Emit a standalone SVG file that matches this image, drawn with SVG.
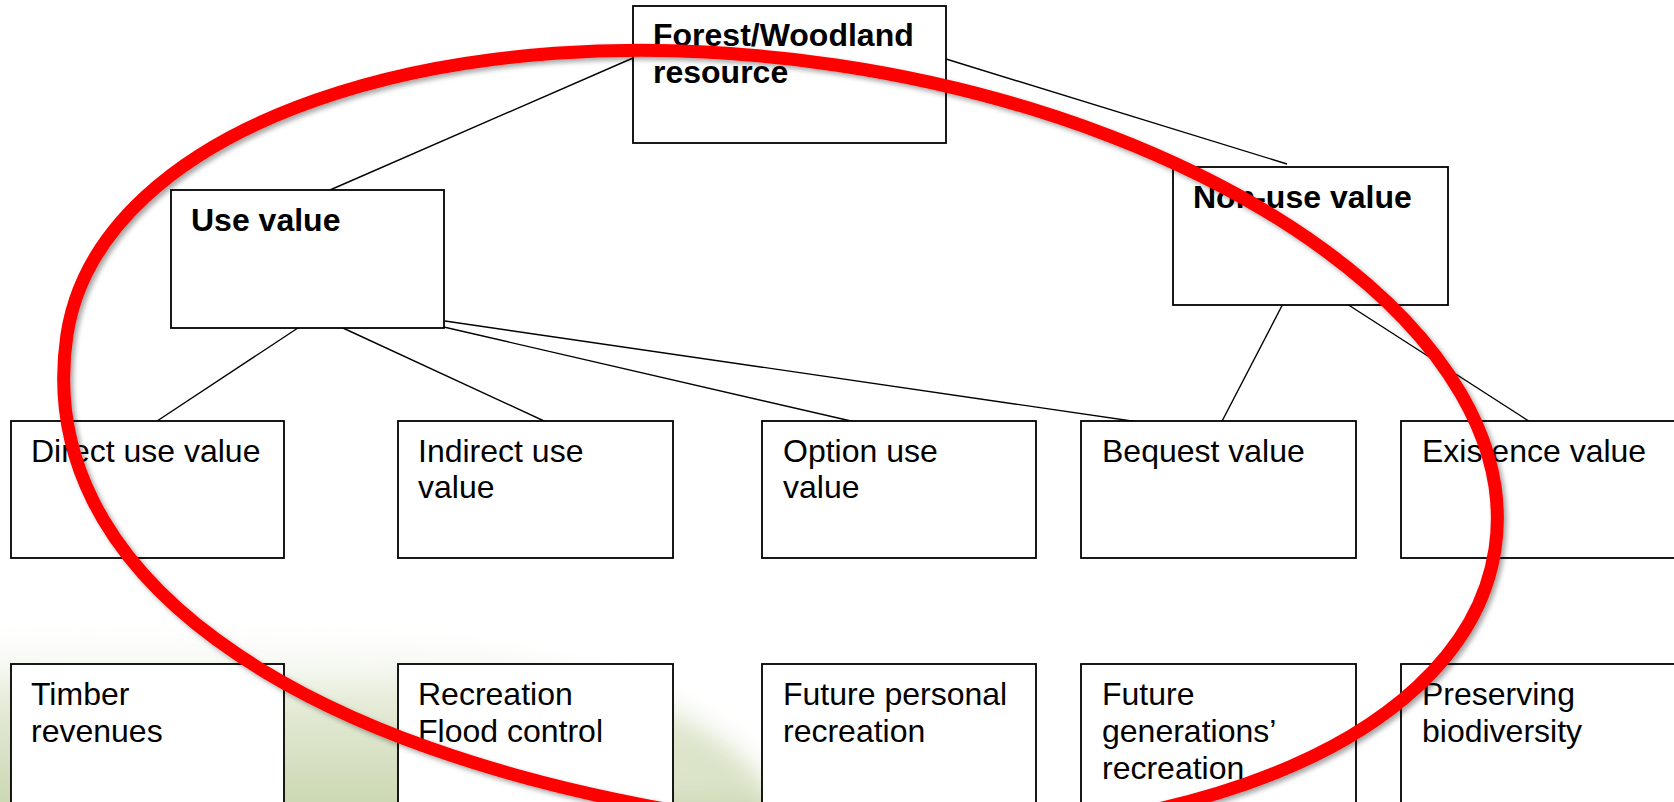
<svg xmlns="http://www.w3.org/2000/svg" width="1674" height="802" viewBox="0 0 1674 802">
<style>
.box{fill:#fff;stroke:#000;stroke-width:1.8}
.t{font-family:"Liberation Sans",Arial,sans-serif;font-size:32px;fill:#000}
.b{font-weight:bold}
.c{stroke:#000;stroke-width:1.4;fill:none}
</style>
<defs>
<linearGradient id="gg" x1="0" y1="0" x2="0" y2="1">
<stop offset="0" stop-color="#ffffff" stop-opacity="0"/>
<stop offset="0.35" stop-color="#e6ecd9"/>
<stop offset="1" stop-color="#c3d1a6"/>
</linearGradient>
<filter id="blur" x="-20%" y="-20%" width="140%" height="140%"><feGaussianBlur stdDeviation="14"/></filter>
<filter id="sh" x="-10%" y="-10%" width="120%" height="120%"><feDropShadow dx="3" dy="3" stdDeviation="2.5" flood-color="#000" flood-opacity="0.35"/></filter>
</defs>
<rect width="1674" height="802" fill="#fff"/>
<g id="background" filter="url(#blur)">
<path d="M-40,640 C150,600 400,620 620,690 C700,715 760,760 800,840 L-40,840 Z" fill="url(#gg)"/>
<path d="M600,740 C660,735 720,760 780,802 L600,802 Z" fill="#dfe7cf" opacity="0.7"/>
</g>
<g id="connectors">
<line class="c" x1="633" y1="58" x2="330" y2="190"/>
<line class="c" x1="946" y1="59" x2="1287" y2="164"/>
<line class="c" x1="307" y1="322" x2="148" y2="427"/>
<line class="c" x1="330" y1="322" x2="557" y2="427"/>
<line class="c" x1="422" y1="322" x2="877" y2="427"/>
<line class="c" x1="445" y1="321" x2="1173" y2="427"/>
<line class="c" x1="1287" y1="296" x2="1219" y2="427"/>
<line class="c" x1="1333" y1="295" x2="1538" y2="427"/>
</g>
<g id="n-forest"><rect class="box" x="633" y="6" width="313" height="137"/><text class="t b" x="653" y="46">Forest/Woodland</text><text class="t b" x="653" y="83">resource</text></g>
<g id="n-use"><rect class="box" x="171" y="190" width="273" height="138"/><text class="t b" x="191" y="231">Use value</text></g>
<g id="n-nonuse"><rect class="box" x="1173" y="167" width="275" height="138"/><text class="t b" x="1193" y="208">Non-use value</text></g>
<g id="n-direct"><rect class="box" x="11" y="421" width="273" height="137"/><text class="t" x="31" y="462">Direct use value</text></g>
<g id="n-indirect"><rect class="box" x="398" y="421" width="275" height="137"/><text class="t" x="418" y="462">Indirect use</text><text class="t" x="418" y="498">value</text></g>
<g id="n-option"><rect class="box" x="762" y="421" width="274" height="137"/><text class="t" x="783" y="462">Option use</text><text class="t" x="783" y="498">value</text></g>
<g id="n-bequest"><rect class="box" x="1081" y="421" width="275" height="137"/><text class="t" x="1102" y="462">Bequest value</text></g>
<g id="n-existence"><rect class="box" x="1401" y="421" width="280" height="137"/><text class="t" x="1422" y="462">Existence value</text></g>
<g id="n-timber"><rect class="box" x="11" y="664" width="273" height="150"/><text class="t" x="31" y="705">Timber</text><text class="t" x="31" y="742">revenues</text></g>
<g id="n-recreation"><rect class="box" x="398" y="664" width="275" height="150"/><text class="t" x="418" y="705">Recreation</text><text class="t" x="418" y="742">Flood control</text></g>
<g id="n-futurepersonal"><rect class="box" x="762" y="664" width="274" height="150"/><text class="t" x="783" y="705">Future personal</text><text class="t" x="783" y="742">recreation</text></g>
<g id="n-futuregen"><rect class="box" x="1081" y="664" width="275" height="150"/><text class="t" x="1102" y="705">Future</text><text class="t" x="1102" y="742">generations’</text><text class="t" x="1102" y="779">recreation</text></g>
<g id="n-biodiversity"><rect class="box" x="1401" y="664" width="280" height="150"/><text class="t" x="1422" y="705">Preserving</text><text class="t" x="1422" y="742">biodiversity</text></g>
<g id="highlight"><path fill="none" stroke="#ff0000" stroke-width="13" filter="url(#sh)" d="M1495.1,548.7 C1464,756.8 1119.1,877.7 724.7,818.8 C282,752.6 32,568.9 66.9,335.3 C98,127.2 442.9,6.3 837.3,65.2 C1231.7,124.1 1526.2,340.6 1495.1,548.7 Z"/></g>
</svg>
